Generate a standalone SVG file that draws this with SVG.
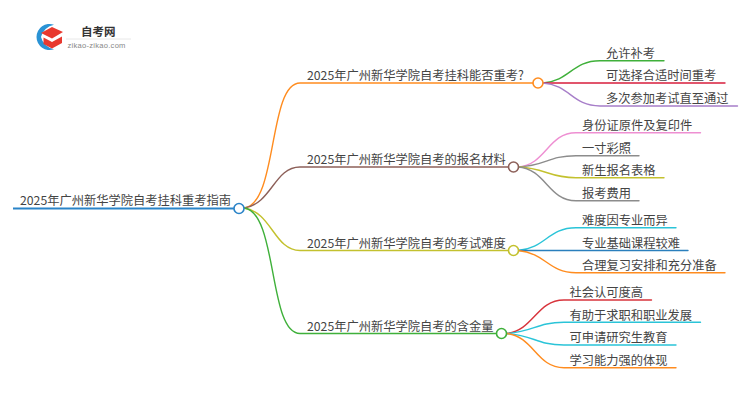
<svg xmlns="http://www.w3.org/2000/svg" width="750" height="410" viewBox="0 0 750 410">
<style>
text{font-family:"Noto Sans CJK SC","Liberation Sans",sans-serif;font-size:12.25px;fill:#444}
.c{fill:none;stroke-width:1.4;stroke-linecap:round}
.n{fill:#fff;stroke-width:1.6}
</style>
<rect width="750" height="410" fill="#fff"/>
<g id="logo">
<path d="M54 24.8A13 13 0 1 0 54 49.2A16 16 0 0 1 41 37A16 16 0 0 1 54 24.8Z" fill="#2a93d5"/>
<path d="M41 33L52 27L63 32L52 38.500Z" fill="#e8392f"/>
<path d="M43.500 37.500L52 42L62 36.500V43L52 48.500L43.500 44Z" fill="#e8392f"/>
<text x="81" y="36" style="font-size:11.500px;font-weight:700;fill:#333">自考网</text>
<path d="M66 39H131" stroke="#e8e8e8" stroke-width="1"/>
<text x="67.500" y="47.500" style="font-size:7.600px;fill:#888;font-family:'Liberation Sans',sans-serif;letter-spacing:.25px">zikao-zikao.com</text>
</g>
<g id="connectors">
<path class="c" stroke="#ff8c1f" d="M244 208C278 204 268 83 300 83H533"/>
<path class="c" stroke="#8d6059" d="M244 208C272 204 274 167 300 167H508"/>
<path class="c" stroke="#c3c12e" d="M244 208C272 212 274 250.500 300 250.500H508"/>
<path class="c" stroke="#3fb03a" d="M244 208C278 212 268 333.500 300 333.500H496"/>
<path class="c" stroke="#3fb03a" d="M543 83C570 81 572 60.700 600 60.700H664"/>
<path class="c" stroke="#d81e3c" d="M543 83H725"/>
<path class="c" stroke="#a77ec9" d="M543 83C570 85 572 106 600 106H737.500"/>
<path class="c" stroke="#ee8fd2" d="M518 167C546 165 548 132.700 576 132.700H700.500"/>
<path class="c" stroke="#8c8c8c" d="M518 167C546 166 548 155.700 576 155.700H639"/>
<path class="c" stroke="#c3c12e" d="M518 167C546 168 548 177.700 576 177.700H664"/>
<path class="c" stroke="#8c8c8c" d="M518 167C546 169 548 200.700 576 200.700H639"/>
<path class="c" stroke="#2ac4d8" d="M518 250.500C546 248 548 227.700 576 227.700H676"/>
<path class="c" stroke="#2a7fbd" d="M518 250.500H688"/>
<path class="c" stroke="#ff8c1f" d="M518 250.500C546 253 548 272.700 576 272.700H725"/>
<path class="c" stroke="#d8343c" d="M506 333.500C534 331 536 300 564 300H651.500"/>
<path class="c" stroke="#2ac4d8" d="M506 333.500C534 332 536 322.300 564 322.300H700.500"/>
<path class="c" stroke="#2ac4d8" d="M506 333.500C534 335 536 345 564 345H676"/>
<path class="c" stroke="#ff8c1f" d="M506 333.500C534 336 536 367.700 564 367.700H676"/>
<path d="M13 208.500H234" fill="none" stroke="#2a84c8" stroke-width="2"/>
</g>
<g id="root"><text x="20" y="205">2025年广州新华学院自考挂科重考指南</text><circle class="n" stroke="#2a84c8" cx="239" cy="208.500" r="5"/></g>
<g id="b1"><text x="307" y="80">2025年广州新华学院自考挂科能否重考?</text><circle class="n" stroke="#ff8c1f" cx="538" cy="83" r="5"/></g>
<g id="b2"><text x="307" y="164">2025年广州新华学院自考的报名材料</text><circle class="n" stroke="#8d6059" cx="513.500" cy="167" r="5"/></g>
<g id="b3"><text x="307" y="247.500">2025年广州新华学院自考的考试难度</text><circle class="n" stroke="#c3c12e" cx="513.500" cy="250.500" r="5"/></g>
<g id="b4"><text x="307" y="330.500">2025年广州新华学院自考的含金量</text><circle class="n" stroke="#3fb03a" cx="501.500" cy="333.500" r="5"/></g>
<g id="l11"><text x="606" y="58">允许补考</text></g>
<g id="l12"><text x="606" y="80">可选择合适时间重考</text></g>
<g id="l13"><text x="606" y="103">多次参加考试直至通过</text></g>
<g id="l21"><text x="582" y="130">身份证原件及复印件</text></g>
<g id="l22"><text x="582" y="153">一寸彩照</text></g>
<g id="l23"><text x="582" y="175">新生报名表格</text></g>
<g id="l24"><text x="582" y="198">报考费用</text></g>
<g id="l31"><text x="582" y="225">难度因专业而异</text></g>
<g id="l32"><text x="582" y="247.500">专业基础课程较难</text></g>
<g id="l33"><text x="582" y="270">合理复习安排和充分准备</text></g>
<g id="l41"><text x="569.500" y="297">社会认可度高</text></g>
<g id="l42"><text x="569.500" y="319.500">有助于求职和职业发展</text></g>
<g id="l43"><text x="569.500" y="342">可申请研究生教育</text></g>
<g id="l44"><text x="569.500" y="365">学习能力强的体现</text></g>
</svg>
